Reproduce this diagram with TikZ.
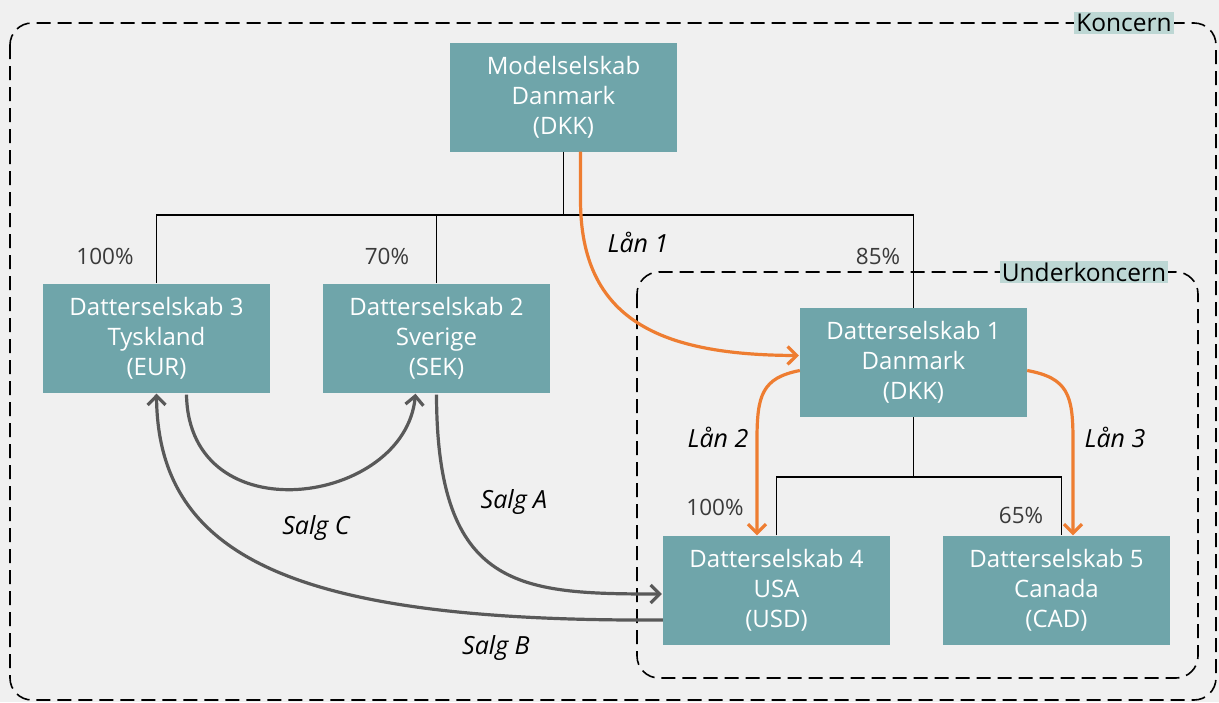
\documentclass[tikz,border=0pt]{standalone}
\usepackage{fontspec}
\setmainfont{Open Sans}
\usetikzlibrary{arrows.meta,calc}
\definecolor{boxfill}{HTML}{6FA5AA}
\definecolor{tagfill}{HTML}{BDD7D4}
\definecolor{bg}{HTML}{F0F0F0}
\definecolor{loan}{HTML}{EE7D31}
\definecolor{sale}{HTML}{595959}
\definecolor{pct}{HTML}{3A3A3A}
\tikzset{
  company/.style={fill=boxfill, draw=none, minimum width=227pt, minimum height=109pt,
    text=white, align=center, font=\fontsize{24}{30}\selectfont, inner sep=0pt},
  share/.style={text=pct, font=\fontsize{22.5}{26}\selectfont, inner sep=0pt},
  grouptag/.style={fill=tagfill, text=black, font=\fontsize{24.5}{26}\selectfont, inner xsep=2pt, inner ysep=2pt},
  groupframe/.style={draw=black, line width=1.6pt, dash pattern=on 14pt off 7pt, rounded corners=22pt},
  tree/.style={draw=black, line width=1.8pt},
  loanarrow/.style={draw=loan, line width=3.2pt, -{Straight Barb[length=9pt,width=18pt,line width=3.2pt]}},
  salearrow/.style={draw=sale, line width=3.2pt, -{Straight Barb[length=9pt,width=18pt,line width=3.2pt]}},
  flowlabel/.style={font=\fontsize{25}{28}\selectfont\itshape, text=black, inner sep=0pt},
}
\begin{document}
\begin{tikzpicture}[x=1pt,y=-1pt]
  \fill[bg] (0,0) rectangle (1219,702);
  \useasboundingbox (0,0) rectangle (1219,702);

  % group frames
  \draw[groupframe] (10,23) rectangle (1216,700);
  \node[grouptag] (koncern) at (1124,23) {Koncern};
  \draw[groupframe] (637,272) rectangle (1198,678);
  \node[grouptag] (under) at (1084,272) {Underkoncern};

  % companies
  \node[company] (mod) at (563.5,97) {Modelselskab\\Danmark\\(DKK)};
  \node[company] (d3) at (156.5,338) {Datterselskab 3\\Tyskland\\(EUR)};
  \node[company] (d2) at (436.5,338) {Datterselskab 2\\Sverige\\(SEK)};
  \node[company] (d1) at (913.5,362.5) {Datterselskab 1\\Danmark\\(DKK)};
  \node[company] (d4) at (776.5,590) {Datterselskab 4\\USA\\(USD)};
  \node[company] (d5) at (1056.5,590) {Datterselskab 5\\Canada\\(CAD)};

  % ownership tree
  \coordinate (bus) at (563.5,215);
  \draw[tree] (mod.south) -- (bus);
  \draw[tree] (d3.north) |- (bus) -| (d1.north);
  \draw[tree] (d2.north) -- (d2.north |- bus);
  \coordinate (subbus) at (913.5,477);
  \draw[tree] (d1.south) -- (subbus);
  \draw[tree] (d4.north) |- (subbus) -| ($(d5.north)+(5,0)$);

  % ownership shares
  \node[share] (p3) at (105,256) {100\%};
  \node[share] (p2) at (387,256) {70\%};
  \node[share] (p1) at (878,256) {85\%};
  \node[share] (p4) at (715,507) {100\%};
  \node[share] (p5) at (1021,515) {65\%};

  % loans
  \draw[loanarrow] ($(mod.south)+(17,0)$) -- (580.5,200)
    .. controls (580.5,320) and (660,355) .. ($(d1.west)+(-1,-7)$);
  \draw[loanarrow] ($(d1.west)+(0,8)$) .. controls (762,378) and (757,395) .. (757,440)
    -- ($(d4.north)+(-19.5,0)$);
  \draw[loanarrow] ($(d1.east)+(0,8)$) .. controls (1068,378) and (1073,395) .. (1073,440)
    -- ($(d5.north)+(16.5,0)$);
  \node[flowlabel] (l1) at (638,242) {Lån 1};
  \node[flowlabel] (l2) at (718,437) {Lån 2};
  \node[flowlabel] (l3) at (1115,437) {Lån 3};

  % intercompany sales
  \draw[salearrow] ($(d3.south)+(30,2)$) .. controls (189,536) and (405,505) .. ($(d2.south)+(-21,1)$);
  \draw[salearrow] ($(d2.south)+(0,2)$) .. controls (437,590) and (520,594) .. ($(d4.west)+(-1,4)$);
  \draw[salearrow] ($(d4.west)+(0,30)$) .. controls (300,622) and (158,560) .. ($(d3.south)+(0,1)$);
  \node[flowlabel] (sc) at (316,528) {Salg C};
  \node[flowlabel] (sa) at (514,502) {Salg A};
  \node[flowlabel] (sb) at (496,648) {Salg B};
\end{tikzpicture}
\end{document}
